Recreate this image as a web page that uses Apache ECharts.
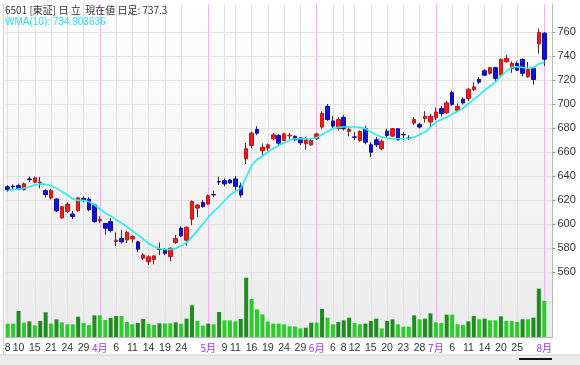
<!DOCTYPE html>
<html><head><meta charset="utf-8">
<script src="https://cdn.jsdelivr.net/npm/echarts@6/dist/echarts.min.js"></script>
<style>html,body{margin:0;padding:0;background:#fff}#c{width:580px;height:365px}</style>
</head><body><div id="c"></div>
<script>
// ---- data ----
const dates = ['3/8','3/9','3/10','3/13','3/14','3/15','3/16','3/17','3/21','3/22','3/23','3/24','3/27','3/28','3/29','3/30','3/31',
'4/3','4/4','4/5','4/6','4/7','4/10','4/11','4/12','4/13','4/14','4/17','4/18','4/19','4/20','4/21','4/24','4/25','4/26','4/27','4/28',
'5/1','5/2','5/8','5/9','5/10','5/11','5/12','5/15','5/16','5/17','5/18','5/19','5/22','5/23','5/24','5/25','5/26','5/29','5/30','5/31',
'6/1','6/2','6/5','6/6','6/7','6/8','6/9','6/12','6/13','6/14','6/15','6/16','6/19','6/20','6/21','6/22','6/23','6/26','6/27','6/28','6/29','6/30',
'7/3','7/4','7/5','7/6','7/7','7/10','7/11','7/12','7/13','7/14','7/18','7/19','7/20','7/21','7/24','7/25','7/26','7/27','7/28','7/31',
'8/1'];
const opens = [631,631.5,632,628.5,637.5,634.8,634.5,627.8,621.7,620.8,605,610.5,608.3,611,621.4,620.8,615.8,
602.7,600.4,602,585.5,587.9,586.8,587.6,585.1,571.5,568.6,570.3,578.8,578.4,572.8,584.5,596.6,586.5,604,613.3,618,
616.6,624.6,635.3,636.2,636.7,637.6,632,654.3,665.4,678.8,661,663.2,671,673.7,669.6,673.4,673,671.6,666.9,666,
671,680.8,698,685.8,679.4,688.9,677.2,672.6,669.6,679.4,666,670.2,662.7,677.4,673.2,679.4,674.6,671.8,684.1,683,688,685,
688.6,696.2,692.5,709.5,694.7,704,704.5,712,720.5,727.7,725.6,730.3,724,735.2,729.6,733.8,737.2,722.6,729.6,750,
759];
const closes = [628.5,631,629,633.5,637,638.4,635,624.5,627.8,611,614.4,616.6,606.3,621.7,620,611.9,602,
603.8,596.5,594.5,586.5,585.1,593,589.6,579,574.2,572.6,573.4,579.3,575.6,579.8,587.9,590,597.2,618.8,615.8,614.6,
623.6,624.2,635,633.4,634.2,631.4,624.2,662.7,675.7,675.7,664,666,674.3,667.4,675.1,674,670.2,667.7,671,669.6,
675.1,692,687,681.6,687,679.4,678.8,672.2,677.2,668.2,659.8,666,669,673.8,679.4,670.2,674.3,671.5,687,680.8,689.8,689.7,
693.3,692,700.9,699.7,698,700.9,712.3,714.3,718.2,724,730.3,721.3,737.2,738,733.8,728.2,725.6,729,720.4,759.7,
737.3];
const lows = [627,628.5,628.5,628,635,634,629.7,622,620.5,610,604.5,609,604,610.5,618,610.5,601,
600.7,591,593,581.8,583.6,584,584.5,576.5,570,566,566.5,574.2,574,569,583.5,589,582,599,606,613.5,
616,622.2,632.5,631.5,633.5,628,622,650,663,674,657.5,661,670,666,669.6,671,669.2,666,662,665,
670,679.5,686,679.5,678,678,673,670,668.5,666.5,655.7,664,661.5,672,672.5,669.5,670,670,682.5,679.5,684.5,681,
686.5,689.5,692,698.5,694,699.5,702.5,711,716.5,723.5,724.5,719,722.5,734.5,726,727.5,723,722,716,742,
731.5];
const highs = [632.5,633,633.5,634.5,639.5,639.5,639,629,629,621.5,615,618,611,622.5,623,622.5,617,
606.3,601,605,593,595,594.5,590.5,586,575.7,574,574,584.6,580,580.5,591,598,598,619.5,616.5,620,
624.5,627.8,639.5,638,637.5,640,634.5,667.5,677,681.5,667,667,676,675,676,676,674,672.5,672.5,671,
676,694,700,690,689,691,681,676.5,678,682,668.5,672.5,670.5,679.5,680,680,676.5,674,689,684.5,694,692,
697,698.5,702.5,711,700.5,705.5,713.5,718,722.5,729,731,731,738,740.8,735.5,735.5,738,735,731,763,
760];
const wma10 = [628.0,628.6,629.2,629.7,631.1,632.5,633.4,633.1,632.0,629.7,627.0,624.2,620.8,619.7,619.7,618.6,615.8,
612.5,609.0,606.6,603.5,600.8,597.7,594.3,591.0,587.4,583.7,581.2,579.6,578.7,578.7,579.6,581.8,584.5,589.3,594.3,600.0,
605.5,610.6,614.6,619.4,624.2,627.0,629.7,639.0,648.7,653.7,656.5,659.8,663.2,665.4,667.7,669.9,671.0,671.0,670.7,671.0,
672.0,674.6,677.2,679.4,680.5,680.8,680.8,680.8,680.5,679.4,676.6,674.4,672.4,671.6,671.0,671.0,671.0,671.3,672.4,674.4,676.6,680.5,
685.0,687.1,689.0,691.7,694.0,696.6,700.3,704.0,707.3,711.5,715.0,718.2,723.3,727.5,730.5,731.0,730.4,729.8,730.3,733.4,
734.9];
const volumes = [20.0,20.0,39.0,21.5,23.5,17.5,24.0,37.0,20.0,26.5,22.0,19.0,19.0,30.5,21.0,18.0,32.5,
32.5,25.5,28.5,31.5,31.5,22.5,19.0,21.0,27.0,19.5,18.0,20.5,20.5,20.5,22.0,20.0,27.5,47.5,24.0,17.0,
20.0,19.0,37.5,25.0,25.0,23.5,27.0,89.0,57.0,41.5,34.0,23.0,20.0,20.0,19.0,16.0,15.8,13.0,14.0,21.5,
21.5,42.0,29.0,19.0,22.5,25.0,29.0,21.0,19.0,20.0,24.0,27.5,13.0,24.0,26.5,19.0,15.5,15.5,32.5,26.5,27.5,35.5,
22.0,21.0,33.5,33.5,19.0,18.0,23.5,31.5,26.5,27.5,25.0,25.0,31.0,24.0,24.0,22.5,26.5,26.5,29.0,72.5,
54.0];
const tickDates = ['3/8','3/10','3/15','3/21','3/24','3/29','4/3','4/6','4/11','4/14','4/19','4/24','5/1','5/9','5/11','5/16','5/19','5/24','5/29',
'6/1','6/6','6/8','6/12','6/15','6/20','6/23','6/28','7/3','7/6','7/11','7/14','7/20','7/25','8/1'];
const tickLabels = ['8','10','15','21','24','29','4月','6','11','14','19','24','5月','9','11','16','19','24','29',
'6月','6','8','12','15','20','23','28','7月','6','11','14','20','25','8月'];
const monthStarts = ['4/3','5/1','6/1','7/3','8/1'];
const headerText = '6501 [東証] 日 立  現在値 日足: ';
const wmaText = 'WMA(10): 734.903636';

// ---- build ----
const cats = dates.concat(['']);
const labelMap = {};
tickDates.forEach((d, i) => { labelMap[d] = tickLabels[i]; });
const candles = dates.map((d, i) => [opens[i], closes[i], lows[i], highs[i]]);
const bodies = dates.map((d, i) => [opens[i], closes[i], Math.min(opens[i], closes[i]), Math.max(opens[i], closes[i])]);
const volData = volumes.map((v, i) => ({
  value: v,
  itemStyle: { color: (i > 0 && v > volumes[i - 1]) ? '#1f8c1f' : '#2ccc2c' }
}));
const vLines = tickDates.map(d => ({
  xAxis: dates.indexOf(d),
  lineStyle: { color: monthStarts.indexOf(d) >= 0 ? '#f2b2f2' : '#e0e0e0', width: 1, type: 'solid' }
}));

const L = 5, R = 27.6;
const chart = echarts.init(document.getElementById('c'), null, { renderer: 'canvas' });
chart.setOption({
  animation: false,
  backgroundColor: '#ffffff',
  title: [
    { text: headerText + closes[closes.length - 1], left: 5, top: 5, padding: 0,
      textStyle: { fontSize: 10, fontWeight: 'normal', color: '#333', fontFamily: 'Noto Sans CJK JP' } },
    { text: wmaText, left: 5, top: 17, padding: 0,
      textStyle: { fontSize: 10, fontWeight: 'normal', color: '#22e6ee', fontFamily: 'Liberation Sans' } }
  ],
  grid: [
    { left: L, right: R, top: 4, bottom: 28, show: true, borderWidth: 0,
      backgroundColor: { type: 'linear', x: 0, y: 0, x2: 0, y2: 1,
        colorStops: [{ offset: 0, color: '#ffffff' }, { offset: 1, color: '#ebebeb' }] } },
    { left: L, right: R, top: 32, height: 240 }
  ],
  xAxis: [
    { type: 'category', gridIndex: 0, data: cats, boundaryGap: true,
      axisLine: { show: true, lineStyle: { color: '#b8b8b8' } },
      axisTick: { show: false },
      splitLine: { show: false },
      axisLabel: {
        margin: 6, fontSize: 10.5, color: '#333', fontFamily: 'Liberation Sans',
        interval: (idx, val) => labelMap[val] !== undefined,
        formatter: (val) => {
          const t = labelMap[val];
          if (t === undefined) return '';
          return t.indexOf('月') >= 0 ? '{m|' + t + '}' : t;
        },
        rich: { m: { color: '#9b30ff', fontSize: 10, fontFamily: 'Noto Sans CJK JP' } }
      } },
    { type: 'category', gridIndex: 1, data: cats, boundaryGap: true, show: false }
  ],
  yAxis: [
    { type: 'value', gridIndex: 0, min: 0, max: 499.5, position: 'right',
      axisLine: { show: true, lineStyle: { color: '#b8b8b8' } },
      axisTick: { show: false }, axisLabel: { show: false }, splitLine: { show: false } },
    { type: 'value', gridIndex: 1, min: 560, max: 760, interval: 20, position: 'right',
      axisLine: { show: false },
      axisTick: { show: true, length: 3, lineStyle: { color: '#999' } },
      axisLabel: { margin: 5, fontSize: 11, color: '#333', fontFamily: 'Liberation Sans' },
      splitLine: { show: true, lineStyle: { color: '#e2e2e2' } } }
  ],
  series: [
    { name: 'Volume', type: 'bar', xAxisIndex: 0, yAxisIndex: 0, data: volData, barWidth: 4, z: 2,
      markLine: { silent: true, symbol: 'none', z: 1, animation: false, label: { show: false },
        data: vLines } },
    { name: 'wick', type: 'candlestick', xAxisIndex: 1, yAxisIndex: 1, data: candles, barWidth: 1, clip: false, z: 3,
      itemStyle: { color: '#333', color0: '#333', borderColor: '#333', borderColor0: '#333', borderWidth: 1 } },
    { name: 'body', type: 'candlestick', xAxisIndex: 1, yAxisIndex: 1, data: bodies, barWidth: 4, clip: false, z: 4,
      itemStyle: { color: '#ee1c1c', color0: '#1212d6', borderColor: '#c81414', borderColor0: '#0c0cb0', borderWidth: 1 } },
    { name: 'WMA(10)', type: 'line', xAxisIndex: 1, yAxisIndex: 1, data: wma10, symbol: 'none', z: 5,
      lineStyle: { color: '#22eef0', width: 1.6 } }
  ],
  graphic: [
    { type: 'rect', shape: { x: 0, y: 355, width: 580, height: 10 }, style: { fill: '#ececec' }, silent: true },
    { type: 'line', shape: { x1: 0, y1: 355, x2: 580, y2: 355 }, style: { stroke: '#cfcfcf', lineWidth: 1 }, silent: true },
    { type: 'line', shape: { x1: 3.5, y1: 4, x2: 3.5, y2: 355 }, style: { stroke: '#c8d4e0', lineWidth: 1 }, silent: true },
    { type: 'rect', shape: { x: 519, y: 358, width: 33, height: 2 }, style: { fill: '#111' }, silent: true }
  ]
});
</script></body></html>
